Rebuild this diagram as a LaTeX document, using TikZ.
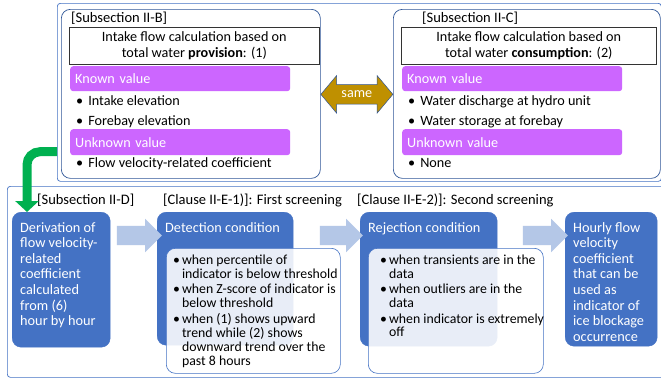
\documentclass[tikz,border=0pt]{standalone}
\usepackage{fontspec}
\setmainfont{Carlito}
\usetikzlibrary{arrows.meta, positioning, shapes.arrows, calc}

\definecolor{boxblue}{HTML}{4472C4}
\definecolor{lineblue}{HTML}{2F5597}
\definecolor{flowblue}{HTML}{B4C7E7}
\definecolor{valviolet}{HTML}{CC66FF}
\definecolor{samegold}{HTML}{BF9000}
\definecolor{linkgreen}{HTML}{00B050}

\newcommand{\bfont}{\fontsize{14.3}{15.6}\selectfont}
\newcommand{\mfont}{\fontsize{14.2}{16}\selectfont}
\newcommand{\tfont}{\fontsize{14.5}{16}\selectfont}
\newcommand{\sfont}{\fontsize{13.8}{13.8}\selectfont}

\begin{document}
\begin{tikzpicture}[x=1pt, y=-1pt,
    frame/.style={draw=boxblue, line width=0.7pt, rounded corners=3pt, fill=white, anchor=north west, inner sep=0pt},
    panel/.style={draw=lineblue, line width=0.7pt, rounded corners=9pt, fill=white, anchor=north west, inner sep=0pt},
    titlebox/.style={draw=black!80, line width=0.6pt, anchor=north west, inner sep=0pt, align=center, font=\mfont},
    valuebar/.style={fill=valviolet, rounded corners=3pt, anchor=north west, inner xsep=5pt, inner ysep=0pt, text width=210pt, align=left, text=white, font=\mfont},
    item/.style={anchor=base west, inner sep=0pt, font=\mfont},
    tag/.style={anchor=base west, inner sep=0pt, font=\tfont},
    stepbox/.style={fill=boxblue, draw=boxblue, rounded corners=9pt, anchor=north west, inner sep=0pt},
    steptext/.style={anchor=north west, inner sep=0pt, align=left, text=white, font=\bfont},
    condbox/.style={draw=boxblue, line width=0.6pt, fill=white, fill opacity=0.88, rounded corners=9pt, anchor=north west, inner sep=0pt},
    condtext/.style={anchor=north west, inner sep=0pt, font=\sfont},
    flow/.style={single arrow, fill=flowblue, draw=none, single arrow head extend=7pt, inner sep=0pt, inner ysep=9.5pt, minimum height=45pt},
    samearrow/.style={double arrow, fill=samegold, draw=lineblue, line width=0.5pt, double arrow head extend=9pt, double arrow tip angle=100, text=white, font=\mfont, text height=8pt, text depth=2pt, inner xsep=2pt, inner ysep=4.5pt, minimum height=72pt},
    greenlink/.style={draw=linkgreen, line width=9pt, rounded corners=13pt, -{Triangle[width=23pt, length=11pt]}},
]
  \useasboundingbox (0,0) rectangle (661,381);

  % upper part: the two intake flow calculations
  \node[frame, minimum width=604pt, minimum height=178pt] (upper) at (57,3) {};
  \node[panel, minimum width=259pt, minimum height=169pt] (provide) at (61,9) {};
  \node[panel, minimum width=267pt, minimum height=169pt] (consume) at (393,9) {};

  \node[tag] (tagB) at (71,22) {[Subsection II-B]};
  \node[titlebox, minimum width=250pt, minimum height=37pt] (titleB) at (69,27)
    {Intake flow calculation based on\\total water \textbf{provision}: (1)};
  \node[valuebar, minimum height=25pt] (knownB) at (70,66) {Known value};
  \node[item] (b1) at (76,105) {\textbullet\hspace{5pt}Intake elevation};
  \node[item] (b2) at (76,125) {\textbullet\hspace{5pt}Forebay elevation};
  \node[valuebar, minimum height=26pt] (unknownB) at (70,129) {Unknown value};
  \node[item] (b3) at (76,167) {\textbullet\hspace{5pt}Flow velocity-related coefficient};

  \node[tag] (tagC) at (422,22) {[Subsection II-C]};
  \node[titlebox, minimum width=255pt, minimum height=37pt] (titleC) at (401,27)
    {Intake flow calculation based on\\total water \textbf{consumption}: (2)};
  \node[valuebar, minimum height=25pt] (knownC) at (402,66) {Known value};
  \node[item] (c1) at (408,105) {\textbullet\hspace{5pt}Water discharge at hydro unit};
  \node[item] (c2) at (408,125) {\textbullet\hspace{5pt}Water storage at forebay};
  \node[valuebar, minimum height=26pt] (unknownC) at (402,129) {Unknown value};
  \node[item] (c3) at (408,167) {\textbullet\hspace{5pt}None};

  \node[samearrow] (same) at ($(provide.east)!0.5!(consume.west)+(0,0.5)$) {same};

  % lower part: screening steps
  \node[frame, minimum width=660pt, minimum height=191pt] (lower) at (7,186) {};

  \node[tag] (tagD) at (37,204) {[Subsection II-D]};
  \node[tag] (tagE1) at (163,204) {[Clause II-E-1)]: First screening};
  \node[tag] (tagE2) at (357,204) {[Clause II-E-2)]: Second screening};

  \node[stepbox, minimum width=98pt, minimum height=135pt] (derive) at (12,212) {};
  \node[steptext] (deriveT) at ($(derive.north west)+(8,10)$)
    {Derivation of\\flow velocity-\\related\\coefficient\\calculated\\from (6)\\hour by hour};

  \node[stepbox, minimum width=136pt, minimum height=133pt] (detect) at (157,212) {};
  \node[steptext] (detectT) at ($(detect.north west)+(8,10)$) {Detection condition};
  \node[condbox, minimum width=174pt, minimum height=125pt] (detectC) at (166,248) {};
  \node[condtext] (detectL) at ($(detectC.north west)+(7,7)$) {%
    \begin{tabular}{@{}l@{\hspace{2pt}}l@{}}
      \textbullet & when percentile of\\
                  & indicator is below threshold\\[1.5pt]
      \textbullet & when Z-score of indicator is\\
                  & below threshold\\[1.5pt]
      \textbullet & when (1) shows upward\\
                  & trend while (2) shows\\
                  & downward trend over the\\
                  & past 8 hours
    \end{tabular}};

  \node[stepbox, minimum width=137pt, minimum height=134pt] (reject) at (360,212) {};
  \node[steptext] (rejectT) at ($(reject.north west)+(8,10)$) {Rejection condition};
  \node[condbox, minimum width=175pt, minimum height=125pt] (rejectC) at (368,248) {};
  \node[condtext] (rejectL) at ($(rejectC.north west)+(12,7)$) {%
    \begin{tabular}{@{}l@{\hspace{2pt}}l@{}}
      \textbullet & when transients are in the\\
                  & data\\[1.5pt]
      \textbullet & when outliers are in the\\
                  & data\\[1.5pt]
      \textbullet & when indicator is extremely\\
                  & off
    \end{tabular}};

  \node[stepbox, minimum width=92pt, minimum height=134pt] (result) at (565,212) {};
  \node[steptext] (resultT) at ($(result.north west)+(8,10)$)
    {Hourly flow\\velocity\\coefficient\\that can be\\used as\\indicator of\\ice blockage\\occurrence};

  \node[flow] (f1) at (134.5,235.5) {};
  \node[flow, minimum height=43pt] (f2) at (336.5,235.5) {};
  \node[flow] (f3) at (540.5,235.5) {};

  % link from the unknown coefficient down to its derivation
  \coordinate (gstart) at ($(upper.south west)+(0,-30)$);
  \coordinate (gend) at ($(derive.north west)+(15,0)$);
  \draw[greenlink] (gstart) -| (gend);
\end{tikzpicture}
\end{document}
